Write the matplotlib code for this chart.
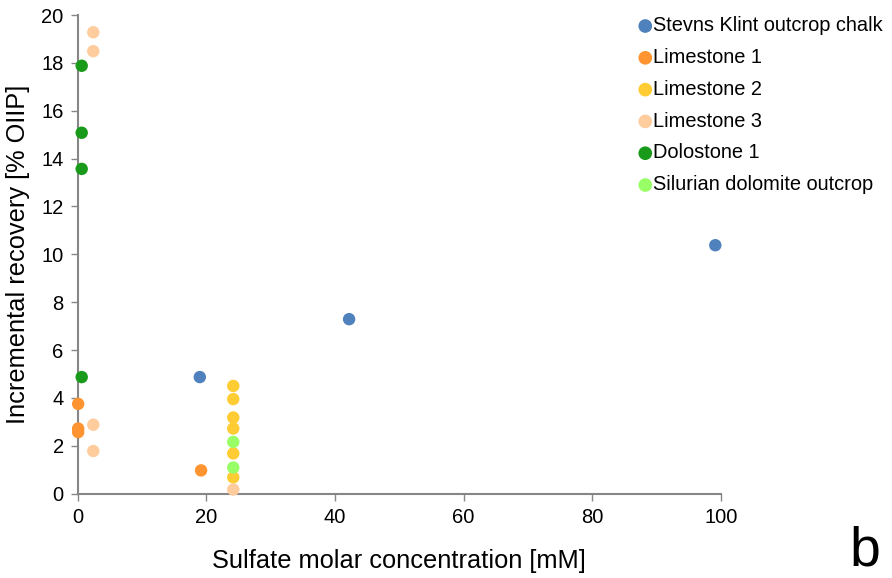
import matplotlib.pyplot as plt

plt.rcParams['font.family'] = ['Liberation Sans', 'DejaVu Sans']

# sulfate concentration [mM] and incremental recovery [% OIIP] per rock type
stevns_x = [19.0, 42.2, 99.1]
stevns_y = [4.87, 7.29, 10.38]

lime1_x = [0.1, 0.1, 0.1, 19.2]
lime1_y = [3.75, 2.72, 2.57, 0.97]

lime2_x = [24.2, 24.2, 24.2, 24.2, 24.2, 24.2]
lime2_y = [4.5, 3.95, 3.18, 2.72, 1.68, 0.68]

lime3_x = [2.45, 2.45, 2.45, 2.45, 24.2]
lime3_y = [19.28, 18.49, 2.88, 1.78, 0.17]

dolo1_x = [0.65, 0.65, 0.65, 0.65]
dolo1_y = [17.88, 15.08, 13.57, 4.87]

silurian_x = [24.2, 24.2]
silurian_y = [2.16, 1.09]

series = [
    ('Stevns Klint outcrop chalk', stevns_x, stevns_y, '#4F81BD'),
    ('Limestone 1', lime1_x, lime1_y, '#FF9430'),
    ('Limestone 2', lime2_x, lime2_y, '#FFCC33'),
    ('Limestone 3', lime3_x, lime3_y, '#FFCC9E'),
    ('Dolostone 1', dolo1_x, dolo1_y, '#1A9A1A'),
    ('Silurian dolomite outcrop', silurian_x, silurian_y, '#99FF66'),
]

fig = plt.figure(figsize=(8.92, 5.78), dpi=100)
ax = fig.add_axes([0.0869, 0.146, 0.7215, 0.828])

for name, x, y, c in series:
    ax.scatter(x, y, s=80, color=c, label=name, edgecolors='none', zorder=3, clip_on=False)

ax.set_xlim(0, 100)
ax.set_ylim(0, 20)
ax.set_xticks(range(0, 101, 20))
ax.set_yticks(range(0, 21, 2))
for side in ['top', 'right']:
    ax.spines[side].set_visible(False)
for side in ['left', 'bottom']:
    ax.spines[side].set_color('#868686')
    ax.spines[side].set_linewidth(1.5)
ax.tick_params(colors='#868686', labelcolor='black', labelsize=14.5, length=5, width=1, pad=5)

ax.set_xlabel('Sulfate molar concentration [mM]', fontsize=18.3, labelpad=16)
ax.set_ylabel('Incremental recovery [% OIIP]', fontsize=18.3, labelpad=8)

ax.legend(loc='upper left', bbox_to_anchor=(0.692, 1.003), bbox_transform=fig.transFigure,
          frameon=False, fontsize=14.4, handletextpad=-0.1, labelspacing=0.64,
          handlelength=1.0, markerscale=1.1)

# panel letter sits on the bottom edge
fig.text(849 / 892, 0.0, 'b', fontsize=40, ha='left', va='bottom')

fig.savefig('out.png', dpi=100)
